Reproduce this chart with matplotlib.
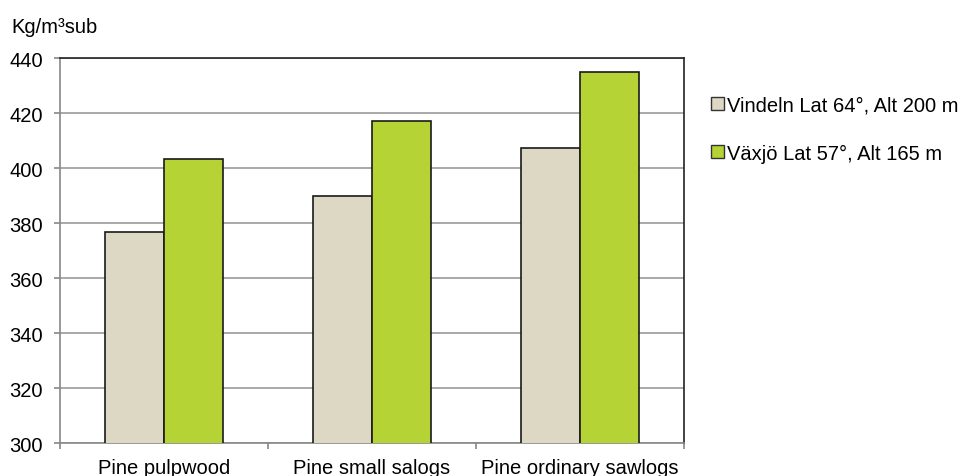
import numpy as np
import matplotlib.pyplot as plt
from matplotlib.patches import Patch

plt.rcParams['font.family'] = ['Liberation Sans', 'DejaVu Sans']

categories = ["Pine pulpwood", "Pine small salogs", "Pine ordinary sawlogs"]
series_names = ["Vindeln Lat 64°, Alt 200 m", "Växjö Lat 57°, Alt 165 m"]
vindeln = [376.7, 389.8, 407.5]
vaxjo = [403.4, 417.1, 435.0]
colors = ["#DDD8C3", "#B5D334"]

fig = plt.figure(figsize=(9.67, 4.77), dpi=100)
ax = fig.add_axes([0.062, 0.069, 0.6455, 0.807])

x = np.arange(len(categories))
w = 0.285
ax.bar(x - w / 2, vindeln, w, color=colors[0], edgecolor="#1a1a1a", linewidth=1.2, zorder=3)
ax.bar(x + w / 2, vaxjo, w, color=colors[1], edgecolor="#1a1a1a", linewidth=1.2, zorder=3)

ax.set_xlim(-0.5, 2.5)
ax.set_ylim(300, 440)
ax.set_yticks(np.arange(300, 441, 20))
ax.yaxis.grid(True, color="#999999", linewidth=1.2, zorder=0)
ax.tick_params(axis="y", labelsize=14.5, length=4.3, color="#888888", width=1.2, pad=8)

ax.set_xticks(x)
ax.set_xticklabels(categories, fontsize=14.5)
ax.tick_params(axis="x", length=0, pad=11)
ax.set_xticks([-0.5, 0.5, 1.5, 2.5], minor=True)
ax.tick_params(axis="x", which="minor", length=4.3, color="#888888", width=1.2)

for side in ["left", "bottom"]:
    ax.spines[side].set_color("#888888")
    ax.spines[side].set_linewidth(1.2)
for side in ["top", "right"]:
    ax.spines[side].set_color("#222222")
    ax.spines[side].set_linewidth(1.2)

fig.text(0.012, 0.942, "Kg/m³sub", fontsize=14.5, va="center")

handles = [Patch(facecolor=c, edgecolor="#333333", linewidth=1) for c in colors]
fig.legend(handles, series_names, loc="upper left", bbox_to_anchor=(0.735, 0.798),
           frameon=False, fontsize=14.5, handlelength=0.65, handleheight=0.65,
           handletextpad=0.15, labelspacing=1.45, borderaxespad=0, borderpad=0)

fig.savefig("out.png", dpi=100)
